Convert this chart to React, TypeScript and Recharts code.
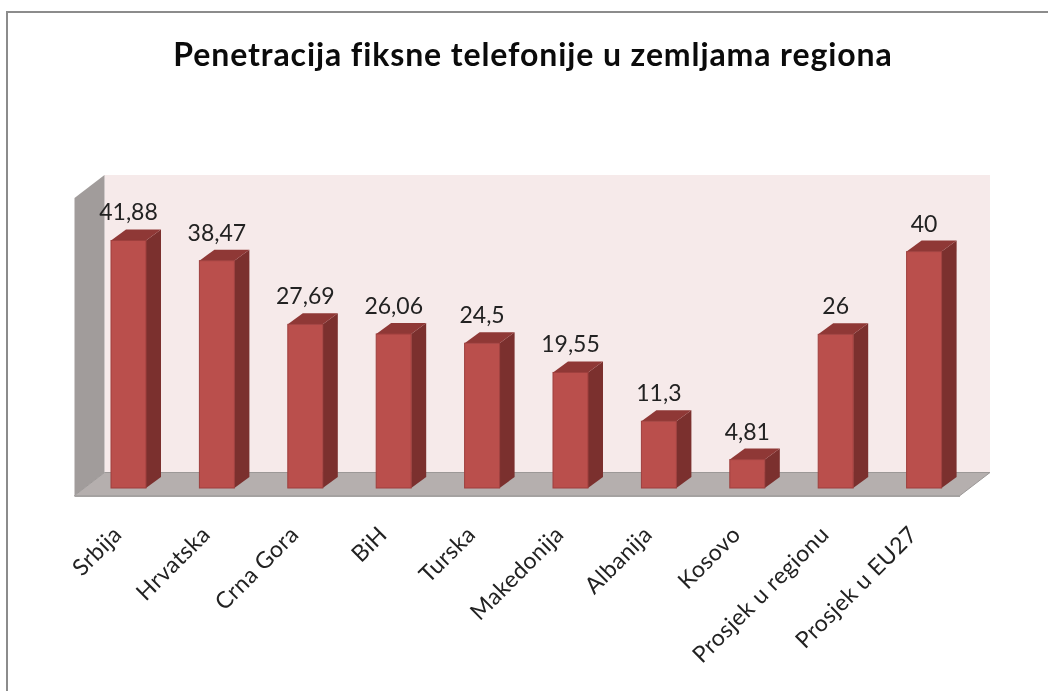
import React from "react";
import { BarChart, Bar, XAxis, YAxis, LabelList, usePlotArea } from "recharts";

const categories = [
  "Srbija",
  "Hrvatska",
  "Crna Gora",
  "BiH",
  "Turska",
  "Makedonija",
  "Albanija",
  "Kosovo",
  "Prosjek u regionu",
  "Prosjek u EU27",
];
const values = [41.88, 38.47, 27.69, 26.06, 24.5, 19.55, 11.3, 4.81, 26, 40];

const data = categories.map((name, i) => ({ name, value: values[i] }));

const FONT = "Lato, 'Noto Sans', sans-serif";

// depth of one bar and of the whole floor, in px
const BAR_DX = 15;
const BAR_DY = 11;
const FLOOR_DX = 30;
const FLOOR_DY = 23;

const Walls = () => {
  const plot = usePlotArea();
  if (!plot) return null;
  const frontLeft = plot.x - 9.5;
  const frontRight = plot.x + plot.width - 8;
  const frontBottom = plot.y + plot.height + 7.5;
  const frontTop = plot.y + 5.5;
  const backLeft = frontLeft + FLOOR_DX;
  const backRight = frontRight + FLOOR_DX;
  const backBottom = frontBottom - FLOOR_DY;
  const backTop = frontTop - FLOOR_DY;
  return (
    <g>
      <rect x={backLeft} y={backTop} width={backRight - backLeft} height={backBottom - backTop} fill="#F6EAEA" />
      <polygon
        points={`${frontLeft},${frontTop} ${backLeft},${backTop} ${backLeft},${backBottom} ${frontLeft},${frontBottom}`}
        fill="#A19C9B"
      />
      <polygon
        points={`${frontLeft},${frontBottom} ${backLeft},${backBottom} ${backRight},${backBottom} ${frontRight},${frontBottom}`}
        fill="#B5AFAE"
        stroke="#9C9897"
        strokeWidth={1}
      />
      <line x1={frontLeft} y1={frontBottom + 0.5} x2={frontRight} y2={frontBottom + 0.5} stroke="#A5A2A1" strokeWidth={2} />
    </g>
  );
};

const Box = (props: any) => {
  const { x, y, width, height } = props;
  const right = x + width;
  const bottom = y + height;
  return (
    <g>
      <polygon
        points={`${right},${y} ${right + BAR_DX},${y - BAR_DY} ${right + BAR_DX},${bottom - BAR_DY} ${right},${bottom}`}
        fill="#7B302E"
      />
      <polygon
        points={`${x},${y} ${x + BAR_DX},${y - BAR_DY} ${right + BAR_DX},${y - BAR_DY} ${right},${y}`}
        fill="#8F3836"
      />
      <rect x={x} y={y} width={width} height={height} fill="#BA4F4C" stroke="#9E3F3D" strokeWidth={1} />
    </g>
  );
};

const ValueLabel = (props: any) => {
  const { x, y, width, value } = props;
  return (
    <text
      x={x + width / 2}
      y={y - 20}
      textAnchor="middle"
      fontFamily={FONT}
      fontSize={23}
      fill="#222"
    >
      {String(value).replace(".", ",")}
    </text>
  );
};

const CategoryTick = (props: any) => {
  const { x, y, payload } = props;
  return (
    <text
      transform={`translate(${x - 5},${y}) rotate(-45)`}
      textAnchor="end"
      fontFamily={FONT}
      fontSize={23}
      letterSpacing={0.4}
      fill="#222"
    >
      {payload.value}
    </text>
  );
};

const App = () => {
  return (
    <div
      style={{
        position: "absolute",
        left: 0,
        top: 0,
        width: 1048,
        height: 691,
        overflow: "hidden",
        background: "#fff",
        filter: "blur(0.5px)",
      }}
    >
      <div
        style={{
          position: "absolute",
          left: 6,
          top: 11,
          width: 1100,
          height: 800,
          border: "2px solid #8C8C8C",
        }}
      />
      <div style={{ position: "absolute", left: 0, top: 0 }}>
        <BarChart
          width={1048}
          height={691}
          data={data}
          margin={{ top: 192.5, right: 80, bottom: 0, left: 84 }}
        >
          <Walls />
          <text
            x={533}
            y={66}
            textAnchor="middle"
            fontFamily={FONT}
            fontWeight={700}
            fontSize={32}
            letterSpacing={0.9}
            fill="#0B0B0B"
          >
            Penetracija fiksne telefonije u zemljama regiona
          </text>
          <XAxis
            dataKey="name"
            axisLine={false}
            tickLine={false}
            interval={0}
            height={203}
            tick={<CategoryTick />}
            tickMargin={42}
          />
          <YAxis hide domain={[0, 50]} />
          <Bar dataKey="value" barSize={35} shape={<Box />} isAnimationActive={false}>
            <LabelList dataKey="value" content={<ValueLabel />} />
          </Bar>
        </BarChart>
      </div>
    </div>
  );
};

export default App;
